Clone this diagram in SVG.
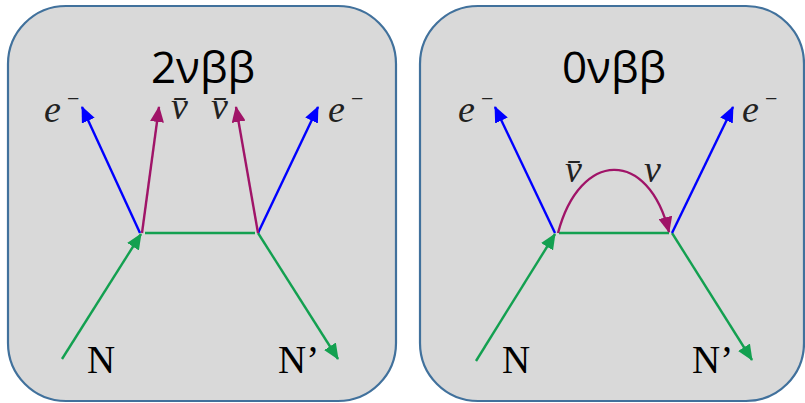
<svg xmlns="http://www.w3.org/2000/svg" width="805" height="403" viewBox="0 0 805 403">
<style>
.panel{fill:#D9D9D9;stroke:#41719C;stroke-width:2.2}
.title{font-family:"Open Sans","Noto Sans",sans-serif;font-size:44px;fill:#000;text-anchor:middle}
.m{font-family:"Liberation Serif","DejaVu Serif",serif;font-style:italic;font-size:38px;fill:#222}
.sup{font-family:"Liberation Serif","DejaVu Serif",serif;font-size:22px;fill:#222}
.n{font-family:"Liberation Serif","DejaVu Serif",serif;font-size:39px;fill:#000}
.g{stroke:#13A050;stroke-width:2.4;fill:none}
.b{stroke:#0000FF;stroke-width:2.4;fill:none}
.p{stroke:#A01468;stroke-width:2.4;fill:none}
</style>
<defs>
<marker id="ag" markerUnits="userSpaceOnUse" markerWidth="16" markerHeight="14" viewBox="0 0 16 14" refX="15" refY="7" orient="auto"><path d="M0,0 L16,7 L0,14 Z" fill="#13A050"/></marker>
<marker id="ab" markerUnits="userSpaceOnUse" markerWidth="16" markerHeight="14" viewBox="0 0 16 14" refX="15" refY="7" orient="auto"><path d="M0,0 L16,7 L0,14 Z" fill="#0000FF"/></marker>
<marker id="ap" markerUnits="userSpaceOnUse" markerWidth="16" markerHeight="14" viewBox="0 0 16 14" refX="15" refY="7" orient="auto"><path d="M0,0 L16,7 L0,14 Z" fill="#A01468"/></marker>
</defs>
<g id="panel-2vbb">
<rect class="panel" x="8" y="6" width="388" height="395" rx="58" ry="58"/>
<text class="title" x="203" y="83">2νββ</text>
<text class="m" x="44" y="122">e</text><text class="sup" x="67" y="106">−</text>
<text class="m" x="171" y="119">v̄</text>
<text class="m" x="211" y="119">v̄</text>
<text class="m" x="328" y="122">e</text><text class="sup" x="351" y="106">−</text>
<text class="n" x="87" y="373">N</text>
<text class="n" x="278" y="373">N’</text>
</g>
<g id="panel-0vbb">
<rect class="panel" x="420" y="6" width="384" height="395" rx="58" ry="58"/>
<text class="title" x="614" y="83">0νββ</text>
<text class="m" x="458" y="122">e</text><text class="sup" x="481" y="106">−</text>
<text class="m" x="742" y="122">e</text><text class="sup" x="765" y="106">−</text>
<text class="m" x="565" y="182">v̄</text>
<text class="m" x="644" y="182">v</text>
<text class="n" x="502" y="373">N</text>
<text class="n" x="692" y="373">N’</text>
</g>
<g id="connectors">
<line class="g" x1="62" y1="359" x2="141" y2="234" marker-end="url(#ag)"/>
<line class="g" x1="145" y1="233" x2="255" y2="233"/>
<line class="g" x1="258" y1="233" x2="338" y2="359" marker-end="url(#ag)"/>
<line class="b" x1="140" y1="233" x2="82" y2="107" marker-end="url(#ab)"/>
<line class="b" x1="258" y1="233" x2="318" y2="107" marker-end="url(#ab)"/>
<line class="p" x1="142" y1="233" x2="159" y2="107" marker-end="url(#ap)"/>
<line class="p" x1="258" y1="233" x2="236" y2="107" marker-end="url(#ap)"/>
<line class="g" x1="476" y1="361" x2="555" y2="234" marker-end="url(#ag)"/>
<line class="g" x1="559" y1="233" x2="669" y2="233"/>
<line class="g" x1="672" y1="233" x2="752" y2="360" marker-end="url(#ag)"/>
<line class="b" x1="555" y1="233" x2="495" y2="107" marker-end="url(#ab)"/>
<line class="b" x1="672" y1="233" x2="733" y2="107" marker-end="url(#ab)"/>
<path class="p" d="M558,233 C580,150 648,148 669,232" marker-end="url(#ap)"/>
</g>
</svg>
